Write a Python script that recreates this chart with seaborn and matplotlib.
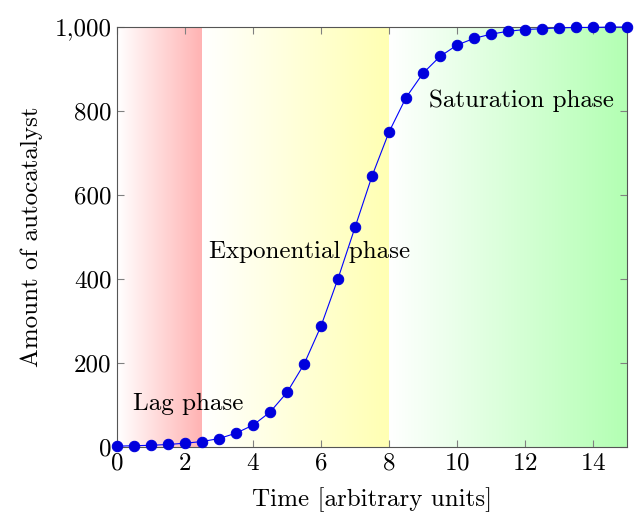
import numpy as np
import seaborn as sns
import matplotlib.pyplot as plt
from matplotlib.colors import LinearSegmentedColormap
from matplotlib.ticker import FuncFormatter

time = [0, 0.5, 1, 1.5, 2, 2.5, 3, 3.5, 4, 4.5, 5, 5.5, 6, 6.5, 7, 7.5,
        8, 8.5, 9, 9.5, 10, 10.5, 11, 11.5, 12, 12.5, 13, 13.5, 14, 14.5, 15]
amount = [2, 3, 4, 6, 9, 13, 20, 33, 52, 83, 130, 197, 288, 401, 523, 645,
          750, 832, 890, 930, 957, 973, 983, 990, 994, 996, 998, 999, 999, 1000, 1000]

phases = ["Lag phase", "Exponential phase", "Saturation phase"]
phase_bounds = [(0, 2.5), (2.5, 8), (8, 15)]
phase_colors = ["#ffb3b3", "#ffffb3", "#b3ffb3"]
label_pos = [(2.1, 102), (5.65, 464), (11.9, 824)]

sns.set_style("ticks")
plt.rcParams['font.family'] = 'serif'
plt.rcParams['font.serif'] = ['cmr10']
plt.rcParams['mathtext.fontset'] = 'cm'
plt.rcParams['axes.formatter.use_mathtext'] = True
plt.rcParams['text.color'] = 'black'
plt.rcParams['axes.labelcolor'] = 'black'
plt.rcParams['xtick.labelcolor'] = 'black'
plt.rcParams['ytick.labelcolor'] = 'black'

fs = 18

fig = plt.figure(figsize=(6.35, 5.2), dpi=100)
ax = fig.add_axes([0.1843, 0.1404, 0.8031, 0.8076])

grad = np.linspace(0, 1, 256).reshape(1, -1)
for (x0, x1), c in zip(phase_bounds, phase_colors):
    cmap = LinearSegmentedColormap.from_list("g", ["white", c])
    ax.imshow(grad, extent=[x0, x1, 0, 1000], aspect='auto', cmap=cmap,
              origin='lower', zorder=0)

sns.lineplot(x=time, y=amount, ax=ax, color='#0000ff', linewidth=0.8,
             marker='o', markersize=7.5, markeredgecolor='#0000dd',
             markerfacecolor='#0000dd', clip_on=False, zorder=3)

for txt, (x, y) in zip(phases, label_pos):
    ax.text(x, y, txt, ha='center', va='center', fontsize=fs, zorder=4)

ax.set_xlim(0, 15)
ax.set_ylim(0, 1000)
ax.set_xticks(range(0, 15, 2))
ax.set_yticks(range(0, 1001, 200))
ax.yaxis.set_major_formatter(FuncFormatter(lambda v, p: f"{int(v):,}"))
ax.tick_params(direction='in', top=True, right=True, length=5, width=0.8,
               color='#808080', labelsize=fs, pad=4)
for s in ax.spines.values():
    s.set_color('#555555')
    s.set_linewidth(0.8)
ax.set_xlabel("Time [arbitrary units]", fontsize=fs, labelpad=9)
ax.set_ylabel("Amount of autocatalyst", fontsize=fs, labelpad=8)

plt.savefig("out.png", dpi=100)
